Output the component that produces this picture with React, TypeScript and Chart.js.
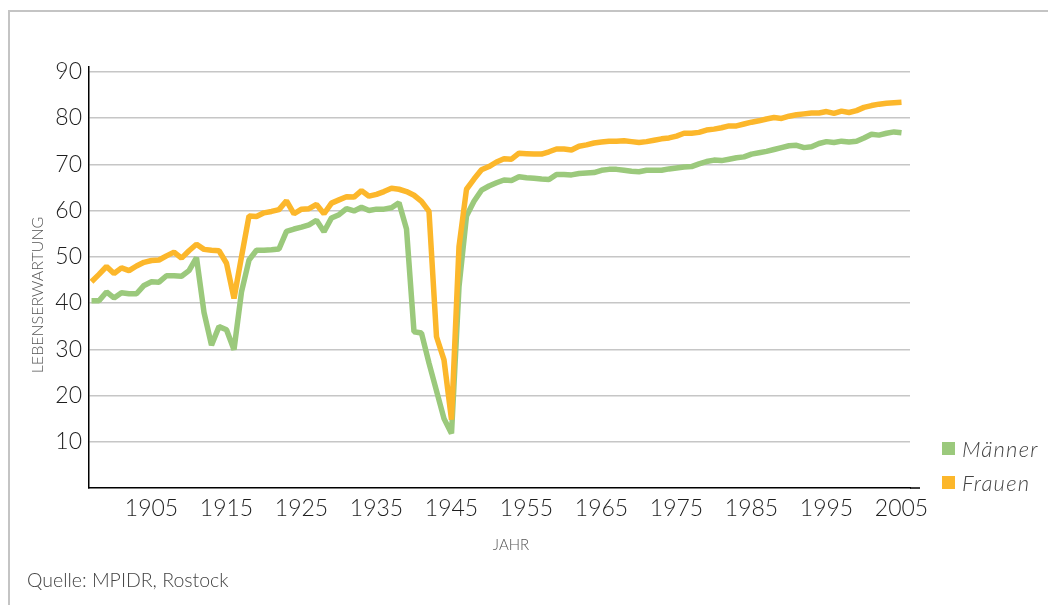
import { useEffect, useRef } from "react";
import { Chart, registerables } from "chart.js";

Chart.register(...registerables);

const years = [
  1897, 1898, 1899, 1900, 1901, 1902, 1903, 1904, 1905, 1906,
  1907, 1908, 1909, 1910, 1911, 1912, 1913, 1914, 1915, 1916,
  1917, 1918, 1919, 1920, 1921, 1922, 1923, 1924, 1925, 1926,
  1927, 1928, 1929, 1930, 1931, 1932, 1933, 1934, 1935, 1936,
  1937, 1938, 1939, 1940, 1941, 1942, 1943, 1944, 1945, 1946,
  1947, 1948, 1949, 1950, 1951, 1952, 1953, 1954, 1955, 1956,
  1957, 1958, 1959, 1960, 1961, 1962, 1963, 1964, 1965, 1966,
  1967, 1968, 1969, 1970, 1971, 1972, 1973, 1974, 1975, 1976,
  1977, 1978, 1979, 1980, 1981, 1982, 1983, 1984, 1985, 1986,
  1987, 1988, 1989, 1990, 1991, 1992, 1993, 1994, 1995, 1996,
  1997, 1998, 1999, 2000, 2001, 2002, 2003, 2004, 2005,
];

const maenner = [
  40.5, 40.5, 42.4, 41.1, 42.2, 42.0, 42.0, 43.8, 44.6, 44.5,
  45.9, 45.9, 45.8, 47.0, 49.8, 38.0, 30.9, 34.9, 34.2, 29.9,
  42.4, 49.3, 51.4, 51.4, 51.5, 51.7, 55.5, 56.0, 56.4, 56.9,
  57.9, 55.4, 58.4, 59.1, 60.4, 59.9, 60.7, 60.0, 60.3, 60.3,
  60.6, 61.7, 56.0, 33.8, 33.5, 27.0, 21.0, 15.0, 11.8, 43.5,
  58.8, 62.0, 64.4, 65.3, 66.0, 66.6, 66.5, 67.3, 67.1, 67.0,
  66.8, 66.7, 67.8, 67.8, 67.7, 68.0, 68.1, 68.2, 68.7, 68.9,
  68.9, 68.7, 68.5, 68.4, 68.7, 68.7, 68.7, 69.0, 69.2, 69.4,
  69.5, 70.1, 70.6, 70.9, 70.8, 71.1, 71.4, 71.6, 72.2, 72.5,
  72.8, 73.2, 73.6, 74.0, 74.1, 73.6, 73.8, 74.5, 74.9, 74.7,
  75.0, 74.8, 75.0, 75.7, 76.5, 76.3, 76.7, 77.0, 76.8,
];

const frauen = [
  44.6, 46.2, 47.9, 46.4, 47.6, 47.0, 48.0, 48.8, 49.2, 49.3,
  50.2, 51.0, 49.7, 51.3, 52.7, 51.6, 51.4, 51.3, 48.6, 41.0,
  50.0, 58.8, 58.7, 59.5, 59.8, 60.2, 62.1, 59.3, 60.3, 60.4,
  61.3, 59.3, 61.6, 62.3, 63.0, 62.9, 64.3, 63.1, 63.5, 64.1,
  64.8, 64.6, 64.1, 63.3, 62.0, 59.8, 32.7, 27.7, 14.8, 52.2,
  64.6, 66.8, 68.8, 69.5, 70.5, 71.2, 71.1, 72.4, 72.3, 72.2,
  72.2, 72.7, 73.3, 73.3, 73.1, 73.9, 74.2, 74.6, 74.8, 75.0,
  75.0, 75.1, 74.9, 74.7, 74.9, 75.2, 75.5, 75.7, 76.1, 76.7,
  76.7, 76.9, 77.4, 77.6, 77.9, 78.3, 78.3, 78.7, 79.1, 79.4,
  79.8, 80.1, 79.9, 80.4, 80.7, 80.9, 81.1, 81.1, 81.4, 81.0,
  81.5, 81.2, 81.6, 82.3, 82.7, 83.0, 83.2, 83.3, 83.4,
];

const xTickYears = [1905, 1915, 1925, 1935, 1945, 1955, 1965, 1975, 1985, 1995, 2005];
const yTickValues = [0, 10, 20, 30, 40, 50, 60, 70, 80, 90];
const seriesNames = ["Männer", "Frauen"];
const xTitle = "JAHR";
const yTitle = "LEBENSERWARTUNG";
const sourceText = "Quelle: MPIDR, Rostock";

const GREEN = "#9bc97c";
const ORANGE = "#fcb72b";
const FONT = "Lato, 'DejaVu Sans', sans-serif";

export default function App() {
  const ref = useRef<HTMLCanvasElement>(null);

  useEffect(() => {
    const canvas = ref.current;
    if (!canvas) return;

    const overlay = {
      id: "overlay",
      afterDraw(chart: any) {
        const ctx = chart.ctx as any;
        const area = chart.chartArea;
        ctx.save();
        ctx.strokeStyle = "#000";
        ctx.lineWidth = 1.5;
        ctx.beginPath();
        ctx.moveTo(area.right, area.bottom);
        ctx.lineTo(area.right + 10, area.bottom);
        ctx.stroke();

        ctx.fillStyle = "#555";
        ctx.font = `300 16px ${FONT}`;
        ctx.textAlign = "center";
        ctx.textBaseline = "middle";
        ctx.save();
        ctx.translate(38, 295);
        ctx.rotate(-Math.PI / 2);
        ctx.fillText(yTitle, 0, 0);
        ctx.restore();

        ctx.font = `300 15px ${FONT}`;
        ctx.fillText(xTitle, 511, 545);

        ctx.textAlign = "left";
        ctx.fillStyle = "#444";
        ctx.font = `300 19.5px ${FONT}`;
        ctx.fillText(sourceText, 27, 581);

        const colors = [GREEN, ORANGE];
        const ys = [450, 484];
        chart.data.datasets.forEach((ds: any, i: number) => {
          ctx.fillStyle = colors[i];
          ctx.fillRect(942, ys[i] - 8, 13, 13);
          ctx.fillStyle = "#444";
          ctx.font = `italic 300 22px ${FONT}`;
          ctx.textAlign = "left";
          ctx.letterSpacing = "1.2px";
          ctx.fillText(ds.label, 962, ys[i]);
          ctx.letterSpacing = "0px";
        });
        ctx.restore();
      },
    };

    const chart = new Chart(canvas, {
      type: "line",
      data: {
        datasets: [
          {
            label: seriesNames[0],
            data: years.map((y, i) => ({ x: y, y: maenner[i] })),
            borderColor: GREEN,
            backgroundColor: GREEN,
            borderWidth: 5.5,
            pointRadius: 0,
            tension: 0,
            borderJoinStyle: "bevel",
            order: 2,
          },
          {
            label: seriesNames[1],
            data: years.map((y, i) => ({ x: y, y: frauen[i] })),
            borderColor: ORANGE,
            backgroundColor: ORANGE,
            borderWidth: 5.5,
            pointRadius: 0,
            tension: 0,
            borderJoinStyle: "bevel",
            order: 1,
          },
        ],
      },
      options: {
        responsive: false,
        animation: false,
        events: [],
        layout: { padding: { left: 0, top: 66.7, right: 138, bottom: 0 } },
        plugins: {
          legend: { display: false },
          tooltip: { enabled: false },
          title: { display: false },
        },
        scales: {
          x: {
            type: "linear",
            min: 1896.667,
            max: 2006.133,
            afterBuildTicks: (s: any) => {
              s.ticks = xTickYears.map((v) => ({ value: v }));
            },
            afterFit: (s: any) => {
              s.height = 117;
            },
            grid: { display: false, drawTicks: false },
            border: { display: true, color: "#000", width: 1.5 },
            ticks: {
              padding: 7,
              autoSkip: false,
              maxRotation: 0,
              color: "#1e1e1e",
              font: { family: FONT, size: 23, weight: "300" },
              callback: (v: any) => String(v),
            },
          },
          y: {
            type: "linear",
            min: 0,
            max: 91.1,
            afterBuildTicks: (s: any) => {
              s.ticks = yTickValues.map((v) => ({ value: v }));
            },
            afterFit: (s: any) => {
              s.width = 89;
            },
            grid: {
              drawTicks: false,
              lineWidth: 1.5,
              color: (c: any) => (c.tick && c.tick.value === 0 ? "rgba(0,0,0,0)" : "#c6c6c6"),
            },
            border: { display: true, color: "#000", width: 1.5 },
            ticks: {
              padding: 7,
              color: "#1e1e1e",
              font: { family: FONT, size: 23, weight: "300" },
              callback: (v: any) => (v === 0 ? "" : String(v)),
            },
          },
        },
      },
      plugins: [overlay],
    } as any);

    return () => chart.destroy();
  }, []);

  return (
    <div
      style={{
        position: "absolute",
        left: 0,
        top: 0,
        width: 1048,
        height: 605,
        overflow: "hidden",
        background: "#fff",
      }}
    >
      <div
        style={{
          position: "absolute",
          left: 8,
          top: 10,
          width: 2000,
          height: 1000,
          borderTop: "2px solid #c4c4c4",
          borderLeft: "2px solid #c4c4c4",
        }}
      />
      <canvas
        ref={ref}
        width={1048}
        height={605}
        style={{ position: "absolute", left: 0, top: 0, width: 1048, height: 605 }}
      />
    </div>
  );
}
